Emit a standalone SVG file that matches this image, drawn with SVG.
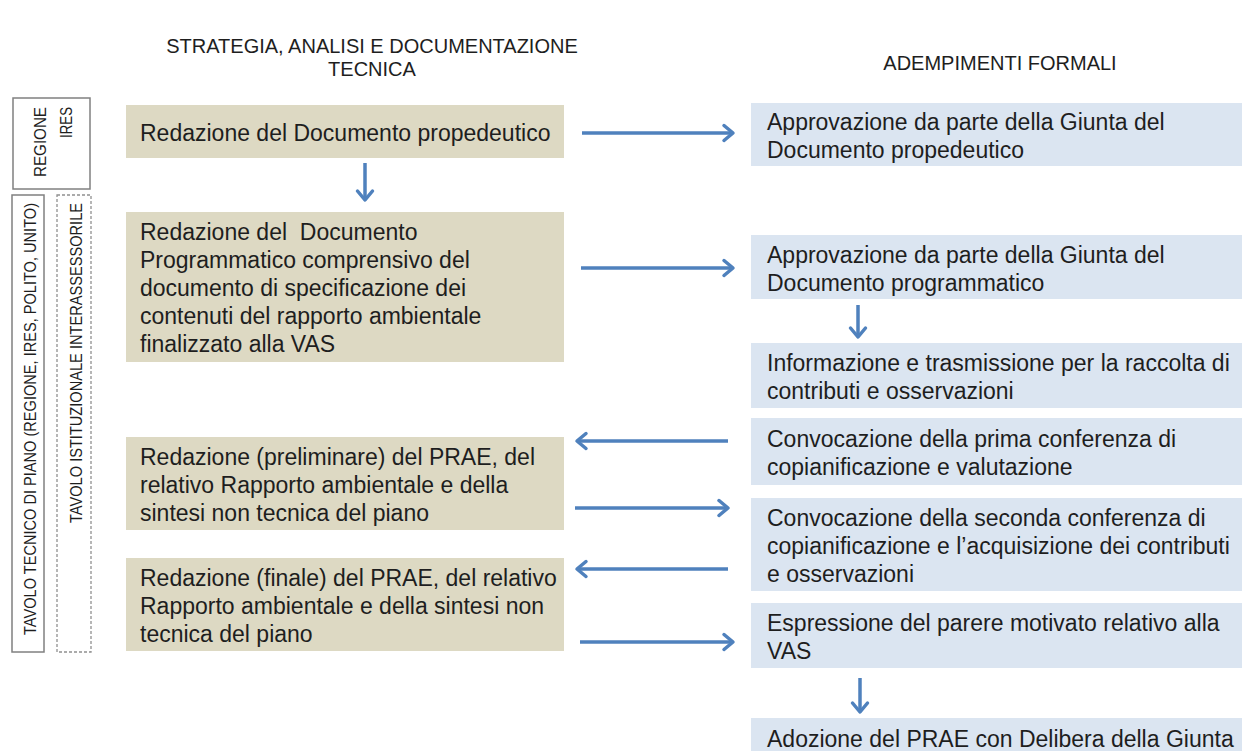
<svg xmlns="http://www.w3.org/2000/svg" width="1242" height="751" viewBox="0 0 1242 751">
<style>
.t{font-family:"Liberation Sans",Arial,sans-serif;font-size:23px;fill:#1e1e1e}
.h{font-family:"Liberation Sans",Arial,sans-serif;font-size:20px;fill:#1e1e1e}
.s{font-family:"Liberation Sans",Arial,sans-serif;font-size:17px;fill:#1e1e1e}
.tan{fill:#ddd9c3}
.blu{fill:#dbe5f1}
.arr{stroke:#4f81bd;stroke-width:3.5;fill:none;marker-end:url(#ah)}
</style>
<defs>
<marker id="ah" markerUnits="userSpaceOnUse" markerWidth="20" markerHeight="20" refX="13" refY="9" orient="auto" overflow="visible">
<path d="M4,1.5 L13,9 L4,16.5" fill="none" stroke="#4f81bd" stroke-width="3.5" stroke-linecap="round" stroke-linejoin="round"/>
</marker>
</defs>
<rect width="1242" height="751" fill="#ffffff"/>

<g id="headers">
<text class="h" x="372" y="53" text-anchor="middle">STRATEGIA, ANALISI E DOCUMENTAZIONE</text>
<text class="h" x="372" y="76" text-anchor="middle">TECNICA</text>
<text class="h" x="1000" y="70" text-anchor="middle">ADEMPIMENTI FORMALI</text>
</g>

<g id="side-regione">
<rect x="13" y="98" width="77" height="91" fill="none" stroke="#808080" stroke-width="1.5"/>
<text class="s" transform="translate(46,107) rotate(-90)" text-anchor="end" textLength="70" lengthAdjust="spacingAndGlyphs">REGIONE</text>
<text class="s" transform="translate(72,107) rotate(-90)" text-anchor="end" textLength="31" lengthAdjust="spacingAndGlyphs">IRES</text>
</g>
<g id="side-tecnico">
<rect x="12" y="195" width="32" height="457" fill="none" stroke="#808080" stroke-width="1.5"/>
<text class="s" transform="translate(36,203) rotate(-90)" text-anchor="end" textLength="432" lengthAdjust="spacingAndGlyphs">TAVOLO TECNICO DI PIANO (REGIONE, IRES, POLITO, UNITO)</text>
</g>
<g id="side-istituzionale">
<rect x="57" y="195" width="34" height="457" fill="none" stroke="#909090" stroke-width="1.3" stroke-dasharray="3,2"/>
<text class="s" transform="translate(82,203) rotate(-90)" text-anchor="end" textLength="320" lengthAdjust="spacingAndGlyphs">TAVOLO ISTITUZIONALE INTERASSESSORILE</text>
</g>

<g id="L1"><rect class="tan" x="126" y="105" width="438" height="53"/>
<text class="t" x="140" y="140.5">Redazione del Documento propedeutico</text></g>
<g id="L2"><rect class="tan" x="126" y="212" width="438" height="150"/>
<text class="t" x="140" y="240" xml:space="preserve">Redazione del  Documento</text>
<text class="t" x="140" y="268">Programmatico comprensivo del</text>
<text class="t" x="140" y="296">documento di specificazione dei</text>
<text class="t" x="140" y="324">contenuti del rapporto ambientale</text>
<text class="t" x="140" y="352">finalizzato alla VAS</text></g>
<g id="L3"><rect class="tan" x="126" y="437" width="438" height="93"/>
<text class="t" x="140" y="464.5">Redazione (preliminare) del PRAE, del</text>
<text class="t" x="140" y="492.5">relativo Rapporto ambientale e della</text>
<text class="t" x="140" y="520.5">sintesi non tecnica del piano</text></g>
<g id="L4"><rect class="tan" x="126" y="558" width="438" height="93"/>
<text class="t" x="140" y="585.5">Redazione (finale) del PRAE, del relativo</text>
<text class="t" x="140" y="613.5">Rapporto ambientale e della sintesi non</text>
<text class="t" x="140" y="641.5">tecnica del piano</text></g>

<g id="R1"><rect class="blu" x="751" y="103" width="491" height="63"/>
<text class="t" x="767" y="130">Approvazione da parte della Giunta del</text>
<text class="t" x="767" y="158">Documento propedeutico</text></g>
<g id="R2"><rect class="blu" x="751" y="235" width="491" height="64"/>
<text class="t" x="767" y="263">Approvazione da parte della Giunta del</text>
<text class="t" x="767" y="291">Documento programmatico</text></g>
<g id="R3"><rect class="blu" x="751" y="343" width="491" height="65"/>
<text class="t" x="767" y="370.5">Informazione e trasmissione per la raccolta di</text>
<text class="t" x="767" y="398.5">contributi e osservazioni</text></g>
<g id="R4"><rect class="blu" x="751" y="418" width="491" height="67"/>
<text class="t" x="767" y="446.5">Convocazione della prima conferenza di</text>
<text class="t" x="767" y="474.5">copianificazione e valutazione</text></g>
<g id="R5"><rect class="blu" x="751" y="498" width="491" height="93"/>
<text class="t" x="767" y="525.5">Convocazione della seconda conferenza di</text>
<text class="t" x="767" y="553.5">copianificazione e l’acquisizione dei contributi</text>
<text class="t" x="767" y="581.5">e osservazioni</text></g>
<g id="R6"><rect class="blu" x="751" y="603" width="491" height="65"/>
<text class="t" x="767" y="630.5">Espressione del parere motivato relativo alla</text>
<text class="t" x="767" y="658.5">VAS</text></g>
<g id="R7"><rect class="blu" x="751" y="718" width="491" height="40"/>
<text class="t" x="767" y="747">Adozione del PRAE con Delibera della Giunta</text></g>

<g id="connectors">
<line class="arr" x1="582" y1="133" x2="733" y2="133"/>
<line class="arr" x1="581" y1="268" x2="733" y2="268"/>
<line class="arr" x1="728" y1="441" x2="577" y2="441"/>
<line class="arr" x1="575" y1="508" x2="728" y2="508"/>
<line class="arr" x1="728" y1="569" x2="577" y2="569"/>
<line class="arr" x1="580" y1="642" x2="733" y2="642"/>
<line class="arr" x1="365" y1="163" x2="365" y2="200"/>
<line class="arr" x1="858" y1="305" x2="858" y2="337"/>
<line class="arr" x1="860" y1="678" x2="860" y2="712"/>
</g>
</svg>
